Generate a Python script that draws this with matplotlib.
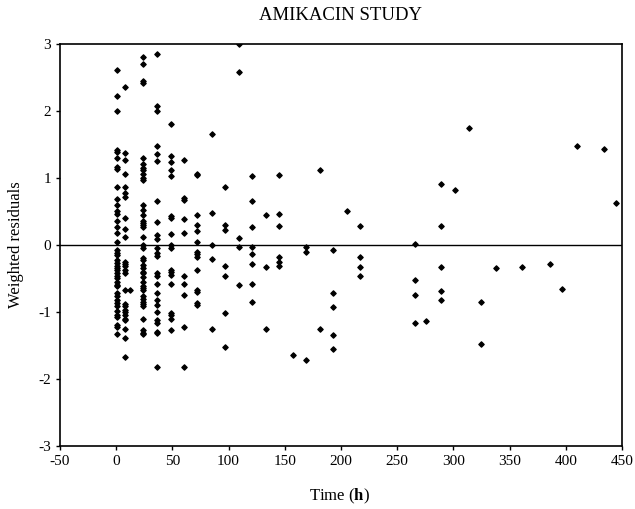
import matplotlib
matplotlib.use("Agg")
import matplotlib.pyplot as plt

plt.rcParams['font.family'] = ['Liberation Serif', 'DejaVu Serif']
plt.rcParams['mathtext.fontset'] = 'custom'
plt.rcParams['mathtext.rm'] = 'Liberation Serif'
plt.rcParams['mathtext.bf'] = 'Liberation Serif:bold'
plt.rcParams['axes.unicode_minus'] = False

# sampling times (h) and the weighted residuals observed at each
times = [1, 8, 12, 24, 36, 49, 60, 72, 85, 97, 109, 121, 133, 145, 157, 169,
         181, 193, 205, 217, 266, 276, 289, 301, 314, 325, 338, 361, 386, 397,
         410, 434, 445]
residuals = [
    [2.61, 2.22, 1.99, 1.41, 1.39, 1.30, 1.16, 1.13, 0.86, 0.69, 0.60, 0.50,
     0.46, 0.36, 0.26, 0.17, 0.04, -0.07, -0.12, -0.15, -0.23, -0.27, -0.31,
     -0.35, -0.38, -0.42, -0.46, -0.50, -0.55, -0.60, -0.62, -0.72, -0.77,
     -0.82, -0.87, -0.92, -0.98, -1.05, -1.08, -1.20, -1.22, -1.33],
    [2.36, 1.37, 1.26, 1.05, 0.86, 0.77, 0.72, 0.40, 0.23, 0.11, -0.25, -0.28,
     -0.32, -0.37, -0.42, -0.68, -0.88, -0.92, -0.97, -1.00, -1.05, -1.11,
     -1.12, -1.26, -1.39, -1.68],
    [-0.68],
    [2.81, 2.70, 2.45, 2.42, 1.29, 1.20, 1.15, 1.12, 1.05, 1.00, 0.96, 0.59,
     0.52, 0.45, 0.35, 0.32, 0.29, 0.26, 0.12, 0.0, -0.05, -0.20, -0.23,
     -0.30, -0.35, -0.40, -0.42, -0.48, -0.55, -0.62, -0.65, -0.67, -0.77,
     -0.81, -0.85, -0.88, -0.92, -1.10, -1.27, -1.31, -1.33],
    [2.84, 2.07, 2.00, 1.47, 1.36, 1.25, 0.65, 0.34, 0.14, 0.09, -0.05, -0.12,
     -0.17, -0.42, -0.46, -0.58, -0.72, -0.82, -0.90, -1.00, -1.12, -1.17,
     -1.30, -1.32, -1.82],
    [1.80, 1.33, 1.23, 1.12, 1.02, 0.43, 0.40, 0.16, 0.0, -0.05, -0.37, -0.41,
     -0.45, -0.58, -1.01, -1.05, -1.10, -1.27],
    [1.27, 0.70, 0.67, 0.38, 0.17, -0.46, -0.59, -0.75, -1.22, -1.83],
    [1.06, 1.04, 0.45, 0.29, 0.20, 0.04, -0.10, -0.13, -0.18, -0.37, -0.68,
     -0.71, -0.87, -0.90],
    [1.65, 0.47, -0.01, -0.21, -1.26],
    [0.86, 0.29, 0.22, -0.31, -0.47, -1.02, -1.53],
    [3.0, 2.58, 0.10, -0.03, -0.60],
    [1.03, 0.66, 0.26, -0.03, -0.13, -0.28, -0.58, -0.85],
    [0.45, -0.33, -1.26],
    [1.04, 0.46, 0.28, -0.18, -0.26, -0.32],
    [-1.64],
    [-0.03, -0.11, -1.72],
    [1.11, -1.26],
    [-0.08, -0.72, -0.93, -1.35, -1.55],
    [0.51],
    [0.28, -0.18, -0.33, -0.46],
    [0.01, -0.53, -0.75, -1.16],
    [-1.14],
    [0.91, 0.28, -0.33, -0.69, -0.83],
    [0.82],
    [1.74],
    [-0.85, -1.48],
    [-0.35],
    [-0.33],
    [-0.28],
    [-0.66],
    [1.47],
    [1.43],
    [0.62],
]

x_ticks = [-50, 0, 50, 100, 150, 200, 250, 300, 350, 400, 450]
y_ticks = [-3, -2, -1, 0, 1, 2, 3]

xs, ys = [], []
for t, vals in zip(times, residuals):
    for v in vals:
        xs.append(t)
        ys.append(v)

fig = plt.figure(figsize=(6.35, 5.09), dpi=100)
ax = fig.add_axes([0.0945, 0.124, 0.885, 0.79])

ax.axhline(0, color='black', linewidth=1.0, zorder=1)
ax.scatter(xs, ys, marker='D', s=7, color='black', zorder=2)

ax.set_xlim(-50, 450)
ax.set_ylim(-3, 3)
ax.set_xticks(x_ticks)
ax.set_yticks(y_ticks)
ax.tick_params(direction='out', length=3, width=1, labelsize=11)
for s in ax.spines.values():
    s.set_linewidth(1.2)

ax.set_title("AMIKACIN STUDY", fontsize=13.5, pad=17)
ax.set_ylabel("Weighted residuals", fontsize=12, labelpad=10)
fig.text(0.535, 0.024, r"Time ($\mathbf{h}$)", fontsize=12,
         ha='center', va='center')

fig.savefig("out.png", dpi=100)
